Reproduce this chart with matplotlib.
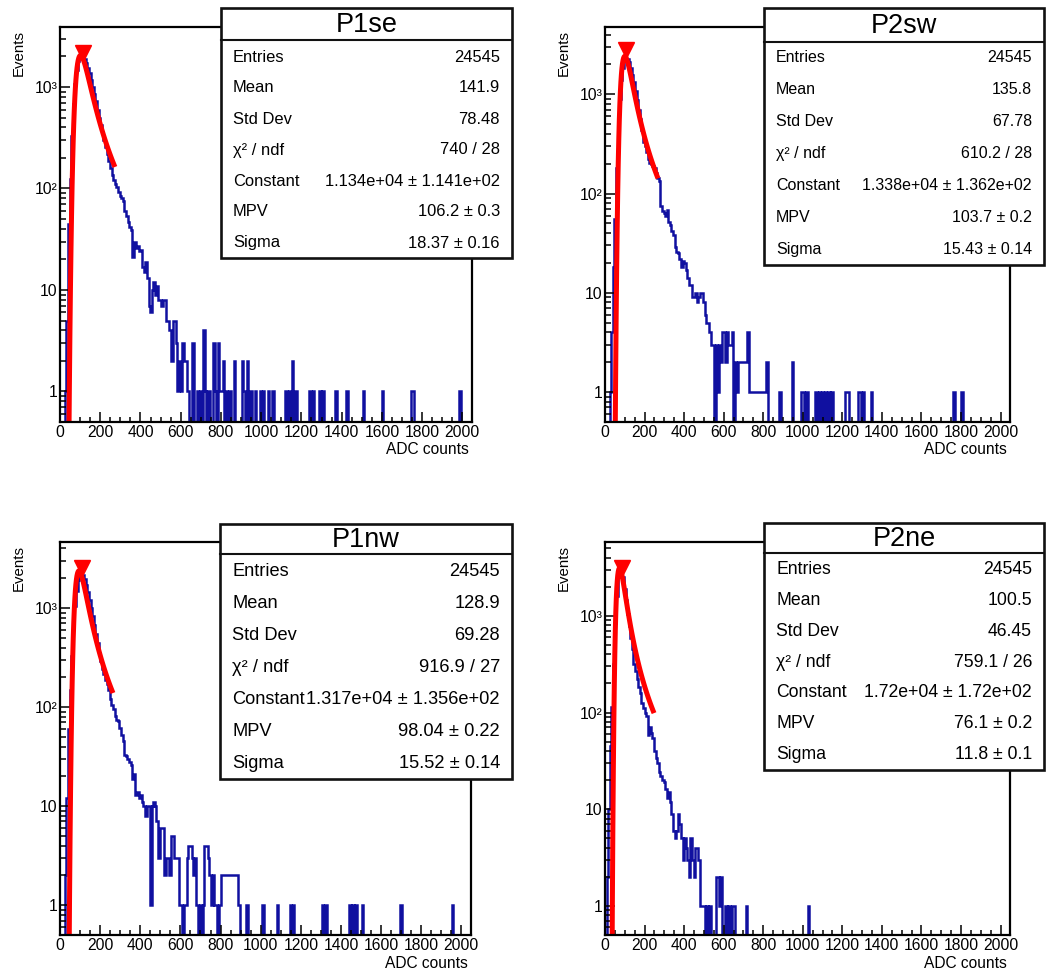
import numpy as np
import matplotlib
matplotlib.use('Agg')
import matplotlib.pyplot as plt
from matplotlib.patches import Rectangle
from matplotlib.lines import Line2D
from matplotlib.ticker import FixedLocator, MultipleLocator, LogLocator, NullFormatter

plt.rcParams['font.family'] = ['Liberation Sans', 'DejaVu Sans']

W, H = 1050, 973
bin_w = 8
n_bins = 256

# ---- histogram contents (8 ADC bins, 0..2048) ----
# P1se
p1se_head = [0, 0, 0, 1, 5, 45, 125, 330, 680, 1080, 1480, 1800, 2000, 2080, 2040,
             1900, 1720, 1540, 1360, 1180, 1000, 850, 720, 590, 490, 420, 360, 300,
             255, 220, 185, 158, 135, 122, 110, 104, 92, 84, 80, 76, 60, 54, 47, 42,
             39, 21, 30, 26, 27, 24, 25, 17, 15, 19, 13, 7, 6, 10, 12, 9, 11, 8, 8,
             7, 8, 8, 5, 5, 4, 2, 5, 5, 3, 1, 2]
p1se_tail_bin = [75, 76, 77, 78, 79, 82, 85, 87, 89, 90, 92, 95, 96, 98, 99, 100, 101,
                 103, 105, 108, 113, 114, 116, 118, 121, 124, 126, 129, 132, 140, 142,
                 144, 146, 155, 157, 161, 163, 171, 178, 188, 200, 218, 219, 248]
p1se_tail_n = [1, 3, 2, 2, 1, 3, 1, 1, 4, 1, 1, 3, 1, 3, 1, 1, 2,
               1, 1, 2, 2, 1, 2, 1, 1, 1, 1, 1, 1, 1, 1,
               2, 1, 1, 1, 1, 1, 1, 1, 1, 1, 1, 1, 1]

# P2sw
p2sw_head = [0, 0, 0, 1, 4, 18, 55, 180, 480, 900, 1400, 1850, 2150, 2280, 2250,
             2100, 1850, 1580, 1320, 1080, 880, 700, 560, 440, 330, 300, 260, 225,
             205, 200, 190, 180, 160, 145, 135, 75, 66, 64, 60, 68, 52, 48, 42, 38,
             29, 26, 25, 22, 18, 21, 20, 17, 14, 12, 12, 9, 9, 10, 8, 9, 10, 10, 8,
             6, 5, 5, 4, 3, 3, 0, 3, 1, 3, 2, 4, 4, 2, 4, 3, 3, 4, 0, 2, 1, 2,
             2, 2, 2, 2, 2, 4, 1, 1, 1, 1, 1, 1, 1, 1, 1, 1, 1, 2]
p2sw_tail_bin = [110, 118, 124, 125, 127, 133, 135, 137, 139, 141, 143, 152, 153,
                 160, 161, 163, 168, 220, 225]
p2sw_tail_n = [1, 2, 1, 1, 1, 1, 1, 1, 1, 1, 1, 1, 1,
               1, 1, 1, 1, 1, 1]

# P1nw
p1nw_head = [0, 0, 0, 2, 12, 60, 150, 330, 650, 1050, 1500, 1900, 2150, 2250, 2150,
             1950, 1700, 1450, 1220, 1010, 830, 680, 550, 440, 350, 290, 245, 215,
             190, 170, 150, 120, 105, 95, 82, 75, 72, 62, 52, 45, 33, 32, 30, 28,
             26, 19, 21, 13, 14, 12, 13, 11, 10, 8, 10, 10, 1, 10, 11, 10, 7, 3, 6,
             6, 6, 2, 3, 3, 2, 5, 5, 3, 3, 3, 1, 1, 0, 1, 1, 3, 4, 4, 3, 2, 3, 1,
             0, 1, 0, 1, 4, 4, 3, 2, 1, 2, 1, 1, 0, 1, 2, 2, 2, 2, 2, 2, 2, 2, 2,
             2, 2, 1]
p1nw_tail_bin = [116, 126, 135, 143, 145, 163, 165, 180, 182, 184, 188, 212, 244]
p1nw_tail_n = [1, 1, 1, 1, 1, 1, 1, 1, 1, 1, 1, 1, 1]

# P2ne
p2ne_head = [0, 2, 10, 45, 115, 320, 850, 1600, 2500, 3050, 3000, 2500, 1900, 1450,
             1050, 780, 590, 450, 320, 270, 220, 185, 160, 125, 112, 100, 92, 58,
             70, 62, 55, 40, 34, 30, 24, 22, 20, 19, 16, 13, 15, 12, 9, 6, 5, 6, 9,
             7, 5, 3, 5, 4, 3, 2, 5, 3, 2, 4, 4, 3, 1, 1, 1, 0, 1, 0, 1, 0, 0, 0,
             2, 2, 1, 2, 0, 0, 1, 0, 1, 0, 1, 1]
p2ne_tail_bin = [89, 128]
p2ne_tail_n = [1, 1]

# ---- stat box contents ----
stat_labels = ['Entries', 'Mean', 'Std Dev', 'χ² / ndf', 'Constant', 'MPV', 'Sigma']
p1se_stats = ['24545', '141.9', '78.48', '740 / 28', '1.134e+04 ± 1.141e+02',
              '106.2 ± 0.3', '18.37 ± 0.16']
p2sw_stats = ['24545', '135.8', '67.78', '610.2 / 28', '1.338e+04 ± 1.362e+02',
              '103.7 ± 0.2', '15.43 ± 0.14']
p1nw_stats = ['24545', '128.9', '69.28', '916.9 / 27', '1.317e+04 ± 1.356e+02',
              '98.04 ± 0.22', '15.52 ± 0.14']
p2ne_stats = ['24545', '100.5', '46.45', '759.1 / 26', '1.72e+04 ± 1.72e+02',
              '76.1 ± 0.2', '11.8 ± 0.1']

# landau fit: constant, mpv, sigma, upper end of fit range
p1se_fit = [1.134e4, 106.2, 18.37, 273]
p2sw_fit = [1.338e4, 103.7, 15.43, 268]
p1nw_fit = [1.317e4, 98.04, 15.52, 264]
p2ne_fit = [1.72e4, 76.1, 11.8, 248]

# peak-finder marker (ADC, counts)
peak_adc = [115, 106, 110, 86]
peak_n = [2160, 2780, 2540, 3130]

names = ['P1se', 'P2sw', 'P1nw', 'P2ne']
heads = [p1se_head, p2sw_head, p1nw_head, p2ne_head]
tail_bins = [p1se_tail_bin, p2sw_tail_bin, p1nw_tail_bin, p2ne_tail_bin]
tail_ns = [p1se_tail_n, p2sw_tail_n, p1nw_tail_n, p2ne_tail_n]
stats = [p1se_stats, p2sw_stats, p1nw_stats, p2ne_stats]
fits = [p1se_fit, p2sw_fit, p1nw_fit, p2ne_fit]

# layout in pixels: axes (l, t, r, b), y max, stat box (l, t, r, b), title sep, row pitch, font size
layout = [
    dict(ax=(60, 27, 472, 422), ymax=3900, box=(221, 8, 512, 258), sep=40, row0=57, pitch=31, fs=11.9),
    dict(ax=(605, 27, 1010, 422), ymax=4760, box=(764, 8, 1044, 265), sep=42, row0=57, pitch=32.1, fs=11.5),
    dict(ax=(60, 542, 471, 935), ymax=4650, box=(220, 524, 512, 779), sep=554, row0=572, pitch=32, fs=13.15),
    dict(ax=(605, 542, 1010, 935), ymax=5800, box=(764, 523, 1044, 770), sep=553, row0=570, pitch=30.7, fs=12.7),
]


def landau(x, mpv, sigma):
    # CERNLIB DENLAN, as used by TMath::Landau
    p1 = [0.4259894875, -0.1249762550, 0.03984243700, -0.006298287635, 0.001511162253]
    q1 = [1.0, -0.3388260629, 0.09594393323, -0.01608042283, 0.003778942063]
    p2 = [0.1788541609, 0.1173957403, 0.01488850518, -0.001394989411, 0.0001283617211]
    q2 = [1.0, 0.7428795082, 0.3153932961, 0.06694219548, 0.008790609714]
    p3 = [0.1788544503, 0.09359161662, 0.006325387654, 0.00006611667319, -0.000002031049101]
    q3 = [1.0, 0.6097809921, 0.2560616665, 0.04746722384, 0.006957301675]
    p4 = [0.9874054407, 118.6723273, 849.2794360, -743.7792444, 427.0262186]
    q4 = [1.0, 106.8615961, 337.6496214, 2016.712389, 1597.063511]
    p5 = [1.003675074, 167.5702434, 4789.711289, 21217.86767, -22324.94910]
    q5 = [1.0, 156.9424537, 3745.310488, 9834.698876, 66924.28357]
    a1 = [0.04166666667, -0.01996527778, 0.02709538966]

    def poly(c, t):
        return c[0] + (c[1] + (c[2] + (c[3] + c[4] * t) * t) * t) * t

    out = []
    for xi in np.atleast_1d(x):
        v = (xi - mpv) / sigma
        if v < -5.5:
            u = np.exp(v + 1.0)
            if u < 1e-10:
                d = 0.0
            else:
                d = 0.3989422803 * (np.exp(-1 / u) / np.sqrt(u)) * (1 + (a1[0] + (a1[1] + a1[2] * u) * u) * u)
        elif v < -1:
            u = np.exp(-v - 1)
            d = np.exp(-u) * np.sqrt(u) * poly(p1, v) / poly(q1, v)
        elif v < 1:
            d = poly(p2, v) / poly(q2, v)
        elif v < 5:
            d = poly(p3, v) / poly(q3, v)
        elif v < 12:
            u = 1 / v
            d = u * u * poly(p4, u) / poly(q4, u)
        else:
            u = 1 / v
            d = u * u * poly(p5, u) / poly(q5, u)
        out.append(d)
    return np.array(out)


def fx(x):
    return x / W


def fy(y):
    return 1 - y / H


fig = plt.figure(figsize=(W / 100, H / 100), dpi=100)
edges = np.arange(n_bins + 1) * bin_w
hist_color = '#1010a0'

for k in range(4):
    L = layout[k]
    l, t, r, b = L['ax']
    ax = fig.add_axes([fx(l), fy(b), (r - l) / W, (b - t) / H])

    counts = np.zeros(n_bins)
    counts[:len(heads[k])] = heads[k]
    counts[tail_bins[k]] = tail_ns[k]
    ax.stairs(np.where(counts > 0, counts, 1e-3), edges, baseline=None,
              color=hist_color, lw=1.8)

    const, mpv, sig, hi = fits[k]
    xf = np.linspace(0, hi, 101)
    yf = const * landau(xf, mpv, sig)
    ax.plot(xf, np.maximum(yf, 1e-6), color='red', lw=3.6, solid_capstyle='butt')
    ax.plot([peak_adc[k]], [peak_n[k]], marker='v', ms=12, color='red', ls='none', clip_on=False)

    ax.set_yscale('log')
    ax.set_xlim(0, 2048)
    ax.set_ylim(0.5, L['ymax'])
    ax.xaxis.set_major_locator(MultipleLocator(200))
    ax.xaxis.set_minor_locator(MultipleLocator(50))
    ax.set_xticks(np.arange(0, 2001, 200))
    ax.yaxis.set_major_locator(FixedLocator([1, 10, 100, 1000]))
    ax.set_yticklabels(['1', '10', '10²', '10³'])
    ax.yaxis.set_minor_locator(LogLocator(base=10, subs=np.arange(2, 10)))
    ax.yaxis.set_minor_formatter(NullFormatter())
    ax.tick_params(which='both', direction='in', top=False, right=False, labelsize=11.3, width=1.1)
    ax.tick_params(axis='x', which='major', length=7, pad=2)
    ax.tick_params(axis='x', which='minor', length=3.5)
    ax.tick_params(axis='y', which='major', length=7, pad=2)
    ax.tick_params(axis='y', which='minor', length=4.5)
    for s in ax.spines.values():
        s.set_linewidth(1.6)

    # axis titles
    fig.text(fx(r - 3), fy(b + 28), 'ADC counts', ha='right', va='center', fontsize=11.2)
    fig.text(fx(l - 41), fy(t + 3), 'Events', ha='center', va='top', rotation=90, fontsize=10.8)

    # stat box
    bl, bt, br, bb = L['box']
    fig.add_artist(Rectangle((fx(bl), fy(bb)), (br - bl) / W, (bb - bt) / H,
                             transform=fig.transFigure, facecolor='white',
                             edgecolor='#111111', lw=1.9, zorder=10))
    fig.add_artist(Line2D([fx(bl), fx(br)], [fy(L['sep']), fy(L['sep'])],
                          transform=fig.transFigure, color='#111111', lw=1.5, zorder=11))
    fig.text(fx((bl + br) / 2), fy((bt + L['sep']) / 2 + 1), names[k], ha='center', va='center',
             fontsize=19.5, zorder=12)
    for i, lab in enumerate(stat_labels):
        yy = fy(L['row0'] + i * L['pitch'])
        fig.text(fx(bl + 12), yy, lab, ha='left', va='center', fontsize=L['fs'], zorder=12)
        fig.text(fx(br - 12), yy, stats[k][i], ha='right', va='center', fontsize=L['fs'], zorder=12)

fig.savefig('out.png', dpi=100, facecolor='white')
